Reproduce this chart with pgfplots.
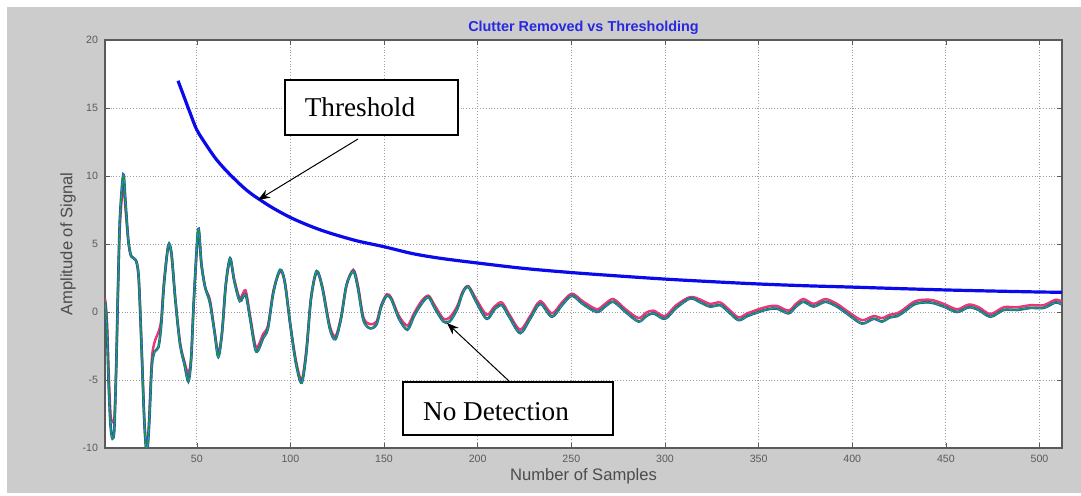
\documentclass[border=0pt]{standalone}
\usepackage{pgfplots}
\pgfplotsset{compat=1.18}
\usepackage{pgfplotstable}
\usepackage{fontspec}
\setmainfont{Liberation Serif}
\setsansfont{Liberation Sans}
\usetikzlibrary{arrows.meta}
\definecolor{figgray}{RGB}{204,204,204}
\definecolor{thrblue}{RGB}{10,10,235}
\definecolor{ttlblue}{RGB}{40,40,225}
\definecolor{ticktxt}{RGB}{90,90,90}
\definecolor{sigred}{RGB}{225,60,70}
\definecolor{sigblue}{RGB}{40,70,190}
\definecolor{siggreen}{RGB}{20,150,70}
\definecolor{sigcyan}{RGB}{40,160,170}

% threshold curve
\pgfplotstableread{
n    t
40   17.0
43   15.9
46   14.8
50   13.4
55   12.3
60   11.3
65   10.5
70   9.8
75   9.15
80   8.6
90   7.7
100  6.95
110  6.35
120  5.85
135  5.25
150  4.8
165  4.3
180  3.95
200  3.6
225  3.2
250  2.9
275  2.65
300  2.42
325  2.23
350  2.06
375  1.93
400  1.83
425  1.72
450  1.62
475  1.54
500  1.47
512  1.45
}\thr

% clutter-removed signals (a: red traces, b: blue/green traces)
\pgfplotstableread{
n     b      a
1     0.8    1.0
2    -1.1   -0.5
3    -5.5   -4.5
4    -8.4   -7.6
5    -9.3   -8.0
6    -8.6   -7.8
7    -4.0   -4.0
8     2.0    2.0
9     7.0    6.5
10.8  10.1   9.3
12    8.0    7.5
13.5  5.2    5.2
15    4.1    4.1
17.5  3.8    3.8
19    2.5    2.5
20.5 -2.5   -2.5
22   -8.0   -8.0
23.3 -10.3  -10.4
24.5 -8.5   -8.0
26   -4.0   -3.5
27.5 -2.9   -2.2
29.5 -2.6   -1.5
31   -1.0   -0.6
32.5  2.0    2.2
34.8  4.9    4.8
36.5  4.3    4.2
38.5  1.0    1.0
41   -2.3   -2.2
43.5 -3.9   -3.7
45.5 -5.1   -4.5
47   -3.5   -3.3
48.5  1.0    1.0
50.8  6.1    5.8
52.5  3.5    3.5
54.5  1.8    1.8
57    0.7    0.9
59.5 -1.5   -1.4
61.5 -3.3   -3.0
63.5 -1.5   -1.5
65.5  2.0    2.0
67.8  3.95   3.8
70    2.3    2.4
73    0.8    1.0
76    1.3    1.6
78.5 -0.5   -0.3
81.7 -2.9   -2.6
85.5 -1.9   -1.6
88   -1.2   -1.0
91    1.5    1.6
94.5  3.1    3.0
97    2.2    2.2
100  -1.0   -1.0
103  -3.8   -3.6
106  -5.2   -5.0
108.5 -3.0  -2.8
111   1.0    1.0
114   3.0    2.9
117   1.8    1.9
121  -1.2   -1.0
124  -2.0   -1.8
127  -0.5   -0.4
130   2.0    2.0
133.6 3.0    3.1
136   1.8    2.0
139  -0.6   -0.4
142.5 -1.2  -0.9
146  -0.9   -0.7
148.5 0.4    0.5
151.5 1.2    1.3
154   0.9    1.0
158  -0.5   -0.3
162.5 -1.3  -1.0
166  -0.3   -0.1
170   0.6    0.8
173.7 1.1    1.2
177   0.3    0.5
181.7 -0.7  -0.5
185  -0.7   -0.4
189   0.2    0.4
192   1.4    1.5
195   1.85   1.9
199   0.8    1.0
204.8 -0.5  -0.2
209   0.2    0.4
212.9 0.5    0.7
217  -0.4   -0.2
222.7 -1.55 -1.3
228  -0.5   -0.3
233.4 0.6    0.8
239.6 -0.35 -0.1
245   0.5    0.7
250.3 1.2    1.35
256   0.6    0.8
263.6 0.0    0.2
268   0.4    0.6
272.5 0.75   0.95
279   0.0    0.2
285.9 -0.7  -0.45
290  -0.3   -0.05
293.9 -0.1   0.1
300  -0.5   -0.3
306   0.3    0.5
313.5 1.0    1.1
319   0.7    0.9
324   0.4    0.6
329.5 0.5    0.7
334   0.0    0.2
339.3 -0.6  -0.4
344  -0.3   -0.1
350   0.0    0.2
355   0.2    0.4
359.8 0.25   0.45
366  -0.1    0.1
370   0.4    0.6
374   0.75   0.95
379.4 0.4    0.6
385.6 0.75   0.95
391.8 0.4    0.6
398  -0.2    0.0
405.2 -0.85 -0.6
411.4 -0.5  -0.3
415.9 -0.7  -0.45
420  -0.4   -0.2
424  -0.3   -0.1
427.5 0.0    0.2
433.7 0.6    0.8
441.7 0.7    0.9
448.8 0.4    0.6
456   0.0    0.2
462.2 0.35   0.55
467.5 0.15   0.35
473.8 -0.35 -0.15
480.9 0.15   0.35
488   0.15   0.35
495.1 0.3    0.5
502.2 0.3    0.5
508.5 0.7    0.9
512   0.55   0.75
}\sig

\begin{document}
\begin{tikzpicture}
% figure window
\path[use as bounding box] (-52.5pt,-24pt) rectangle (488pt,224pt);
\fill[figgray] (-49pt,-22.5pt) rectangle (488pt,220.5pt);

\begin{axis}[
    at={(0pt,0pt)}, anchor=south west,
    scale only axis,
    width=478.5pt, height=204pt,
    xmin=1, xmax=512,
    ymin=-10, ymax=20,
    xtick={50,100,...,500},
    ytick={-10,-5,...,20},
    grid=major,
    grid style={densely dotted, gray!75},
    major tick length=2.5pt,
    tick align=inside,
    tick style={ticktxt},
    axis line style={ticktxt, line width=0.6pt},
    axis background/.style={fill=white},
    tick label style={font=\sffamily\fontsize{5.3}{6}\selectfont, text=ticktxt},
    /pgf/number format/assume math mode=true,
    title={Clutter Removed vs Thresholding},
    title style={font=\sffamily\bfseries\fontsize{7.2}{8}\selectfont, text=ttlblue,
                 at={(axis description cs:0.5,1.034)}, anchor=center, yshift=-7pt},
    xlabel={Number of Samples},
    ylabel={Amplitude of Signal},
    label style={font=\sffamily\fontsize{8.3}{9}\selectfont, text=black!70},
    xlabel style={at={(axis description cs:0.5,-0.068)}, anchor=center},
    ylabel style={at={(axis description cs:-0.0387,0.5)}, anchor=center},
]
\addplot[sigred, line width=1.2pt, smooth, tension=0.5] table[x=n, y=a] {\sig};
\addplot[magenta!80, line width=0.5pt, smooth, tension=0.5] table[x=n, y=a] {\sig};
\addplot[sigblue, line width=1.3pt, smooth, tension=0.5] table[x=n, y=b] {\sig};
\addplot[sigcyan, line width=0.6pt, smooth, tension=0.5] table[x=n, y=b] {\sig};
\addplot[siggreen, line width=0.9pt, smooth, tension=0.5,
         dash pattern=on 2.2pt off 1.4pt] table[x=n, y=b] {\sig};
\addplot[thrblue, line width=1.6pt, smooth] table[x=n, y=t] {\thr};
\end{axis}

% annotations
\draw[black, line width=0.5pt, -{Stealth[length=6pt, width=4.5pt]}]
    (126.5pt,154.5pt) -- (76.5pt,124pt);
\draw[black, line width=0.6pt, fill=white] (90pt,156.5pt) rectangle (176.5pt,184pt);
\node[font=\fontsize{13.6}{15}\selectfont] at (127.5pt,170.5pt) {Threshold};

\draw[black, line width=0.5pt, -{Stealth[length=6pt, width=4.5pt]}]
    (202.5pt,33pt) -- (171pt,62.5pt);
\draw[black, line width=0.6pt, fill=white] (149pt,6.5pt) rectangle (254pt,33pt);
\node[font=\fontsize{13.6}{15}\selectfont] at (195.5pt,18pt) {No Detection};
\end{tikzpicture}
\end{document}
